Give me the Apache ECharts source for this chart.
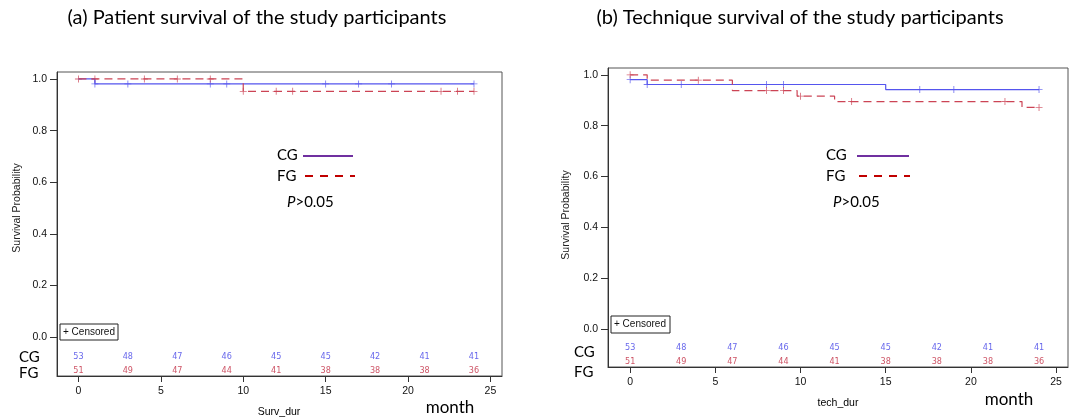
<!DOCTYPE html>
<html><head><meta charset="utf-8">
<script src="https://cdn.jsdelivr.net/npm/echarts@6/dist/echarts.min.js"></script>
<style>html,body{margin:0;padding:0;background:#fff}#c{width:1073px;height:418px}</style>
</head><body><div id="c"></div>
<script>
// ---- data ----
var xTicks = [0, 5, 10, 15, 20, 25];
var yTicks = [0, 0.2, 0.4, 0.6, 0.8, 1.0];
var riskTimes = [0, 3, 6, 9, 12, 15, 18, 21, 24];
var riskCG = [53, 48, 47, 46, 45, 45, 42, 41, 41];
var riskFG = [51, 49, 47, 44, 41, 38, 38, 38, 36];

// (a) patient survival
var aCGtime = [0, 1, 24];
var aCGsurv = [1.0, 0.981, 0.981];
var aCGcensT = [1, 3, 8, 9, 15, 17, 19, 24];
var aCGcensS = [0.981, 0.981, 0.981, 0.981, 0.981, 0.981, 0.981, 0.981];
var aFGtime = [0, 10, 24];
var aFGsurv = [1.0, 0.952, 0.952];
var aFGcensT = [0, 1, 4, 6, 8, 10, 12, 13, 22, 23, 24];
var aFGcensS = [1.0, 1.0, 1.0, 1.0, 1.0, 0.952, 0.952, 0.952, 0.952, 0.952, 0.952];

// (b) technique survival
var bCGtime = [0, 1, 15, 24];
var bCGsurv = [0.981, 0.962, 0.942, 0.942];
var bCGcensT = [0, 1, 3, 8, 9, 17, 19, 24];
var bCGcensS = [0.981, 0.962, 0.962, 0.962, 0.962, 0.942, 0.942, 0.942];
var bFGtime = [0, 1, 6, 9.8, 12, 23, 24];
var bFGsurv = [1.0, 0.979, 0.938, 0.916, 0.895, 0.872, 0.872];
var bFGcensT = [0, 4, 8, 9, 10, 13, 22, 24];
var bFGcensS = [1.0, 0.979, 0.938, 0.938, 0.916, 0.895, 0.895, 0.872];

// ---- style ----
var CG_COL = '#5555ee', FG_COL = '#cc4455';
var RISK_CG = '#3f3fe6', RISK_FG = '#c0283f';
var PLUS = 'path://M-0.12,-1 L0.12,-1 L0.12,-0.12 L1,-0.12 L1,0.12 L0.12,0.12 L0.12,1 L-0.12,1 L-0.12,0.12 L-1,0.12 L-1,-0.12 L-0.12,-0.12 Z';
var ROW_CG = -0.075, ROW_FG = -0.13;

function zip(a, b) { return a.map(function (v, i) { return [v, b[i]]; }); }

var grids = [
  {left: 57, top: 72, width: 445, height: 304},
  {left: 608, top: 68, width: 460, height: 299}
];
grids.forEach(function (g) { g.show = true; g.borderColor = '#555'; g.borderWidth = 1; g.backgroundColor = 'transparent'; });

var xAxes = [], yAxes = [];
for (var i = 0; i < 2; i++) {
  xAxes.push({
    type: 'value', gridIndex: i, min: -1.3, max: 25.7,
    axisLine: {show: true, onZero: false, lineStyle: {color: '#333', width: 1}},
    axisTick: {show: true, inside: false, length: 6, lineStyle: {color: '#333'}, customValues: xTicks},
    axisLabel: {show: true, customValues: xTicks, color: '#111', fontFamily: 'Liberation Sans', fontSize: 10.5, margin: 10},
    splitLine: {show: false}
  });
  yAxes.push({
    type: 'value', gridIndex: i, min: -0.15, max: 1.027,
    axisLine: {show: true, onZero: false, lineStyle: {color: '#333', width: 1}},
    axisTick: {show: true, inside: false, length: 7, lineStyle: {color: '#333'}, customValues: yTicks},
    axisLabel: {show: true, customValues: yTicks, color: '#111', fontFamily: 'Liberation Sans', fontSize: 10.5, margin: 10,
      formatter: function (v) { return v.toFixed(1); }},
    splitLine: {show: false}
  });
}

function stepSeries(idx, t, s, color, dashed) {
  return {
    type: 'line', xAxisIndex: idx, yAxisIndex: idx, step: 'end', data: zip(t, s),
    symbol: 'none', silent: true, animation: false,
    lineStyle: {color: color, width: 1.2, type: dashed ? [8, 5] : 'solid'}
  };
}
function censSeries(idx, t, s, color) {
  return {
    type: 'scatter', xAxisIndex: idx, yAxisIndex: idx, data: zip(t, s),
    symbol: PLUS, symbolSize: 7, silent: true, animation: false,
    itemStyle: {color: color}
  };
}
function riskSeries(idx, counts, row, color) {
  return {
    type: 'scatter', xAxisIndex: idx, yAxisIndex: idx,
    data: riskTimes.map(function (t, k) { return [t, row, counts[k]]; }),
    symbolSize: 0, silent: true, animation: false,
    label: {show: true, position: 'inside', color: color, fontSize: 9, fontFamily: 'DejaVu Sans Condensed',
      formatter: function (p) { return String(p.value[2]); }}
  };
}

var series = [
  stepSeries(0, aCGtime, aCGsurv, CG_COL, false),
  stepSeries(0, aFGtime, aFGsurv, FG_COL, true),
  censSeries(0, aCGcensT, aCGcensS, CG_COL),
  censSeries(0, aFGcensT, aFGcensS, FG_COL),
  riskSeries(0, riskCG, ROW_CG, RISK_CG),
  riskSeries(0, riskFG, ROW_FG, RISK_FG),
  stepSeries(1, bCGtime, bCGsurv, CG_COL, false),
  stepSeries(1, bFGtime, bFGsurv, FG_COL, true),
  censSeries(1, bCGcensT, bCGcensS, CG_COL),
  censSeries(1, bFGcensT, bFGcensS, FG_COL),
  riskSeries(1, riskCG, ROW_CG, RISK_CG),
  riskSeries(1, riskFG, ROW_FG, RISK_FG)
];

var TF = 'Lato';
function txt(x, y, s, size, extra) {
  var st = {text: s, fontSize: size, fontFamily: TF, fill: '#000', textAlign: 'left', textVerticalAlign: 'middle'};
  for (var k in extra) st[k] = extra[k];
  return {type: 'text', x: x, y: y, style: st, silent: true};
}
function legendBlock(x0, lineX0, lineX1, fgX0, fgX1, pX) {
  return [
    txt(x0, 155, 'CG', 15, {}),
    {type: 'line', shape: {x1: lineX0, y1: 156, x2: lineX1, y2: 156}, style: {stroke: '#7030a0', lineWidth: 2}},
    txt(x0, 176, 'FG', 15, {}),
    {type: 'line', shape: {x1: fgX0, y1: 176, x2: fgX1, y2: 176}, style: {stroke: '#c00000', lineWidth: 2, lineDash: [8, 7]}},
    {type: 'text', x: pX, y: 202, style: {rich: {i: {fontStyle: 'italic', fontSize: 15, fontFamily: TF, fill: '#000'}, n: {fontSize: 15, fontFamily: TF, fill: '#000'}},
      text: '{i|P}{n|>0.05}', textVerticalAlign: 'middle'}}
  ];
}
function censBox(x, y, w, h) {
  return [
    {type: 'rect', shape: {x: x, y: y, width: w, height: h}, style: {fill: '#fff', stroke: '#222', lineWidth: 1}},
    {type: 'text', x: x + 3, y: y + h / 2, style: {text: '+ Censored', fontSize: 10, fontFamily: 'Liberation Sans', fill: '#111', textVerticalAlign: 'middle'}}
  ];
}

var graphics = [].concat(
  [txt(257, 18, '(a) Patient survival of the study participants', 20, {textAlign: 'center'}),
   txt(800, 18, '(b) Technique survival of the study participants', 20, {textAlign: 'center'}),
   {type: 'text', x: 17, y: 208, rotation: Math.PI / 2, style: {text: 'Survival Probability', fontSize: 10.5, fontFamily: 'Liberation Sans', fill: '#222', textAlign: 'center', textVerticalAlign: 'middle'}},
   {type: 'text', x: 566, y: 215, rotation: Math.PI / 2, style: {text: 'Survival Probability', fontSize: 10.5, fontFamily: 'Liberation Sans', fill: '#222', textAlign: 'center', textVerticalAlign: 'middle'}},
   txt(279, 412, 'Surv_dur', 10.5, {textAlign: 'center', fontFamily: 'Liberation Sans'}),
   txt(838, 403, 'tech_dur', 10.5, {textAlign: 'center', fontFamily: 'Liberation Sans'}),
   txt(450, 408, 'month', 17, {textAlign: 'center'}),
   txt(1009, 400, 'month', 17, {textAlign: 'center'}),
   txt(19, 357, 'CG', 15, {}),
   txt(19, 373, 'FG', 15, {}),
   txt(574, 352, 'CG', 15, {}),
   txt(574, 372, 'FG', 15, {})],
  legendBlock(277, 303, 353, 305, 355, 287),
  legendBlock(826, 857, 909, 859, 910, 833),
  censBox(60, 324, 58, 16),
  censBox(611, 316, 59, 17)
);

var chart = echarts.init(document.getElementById('c'), null, {renderer: 'canvas'});
chart.setOption({
  animation: false,
  grid: grids, xAxis: xAxes, yAxis: yAxes, series: series,
  graphic: {elements: graphics}
});
</script></body></html>
